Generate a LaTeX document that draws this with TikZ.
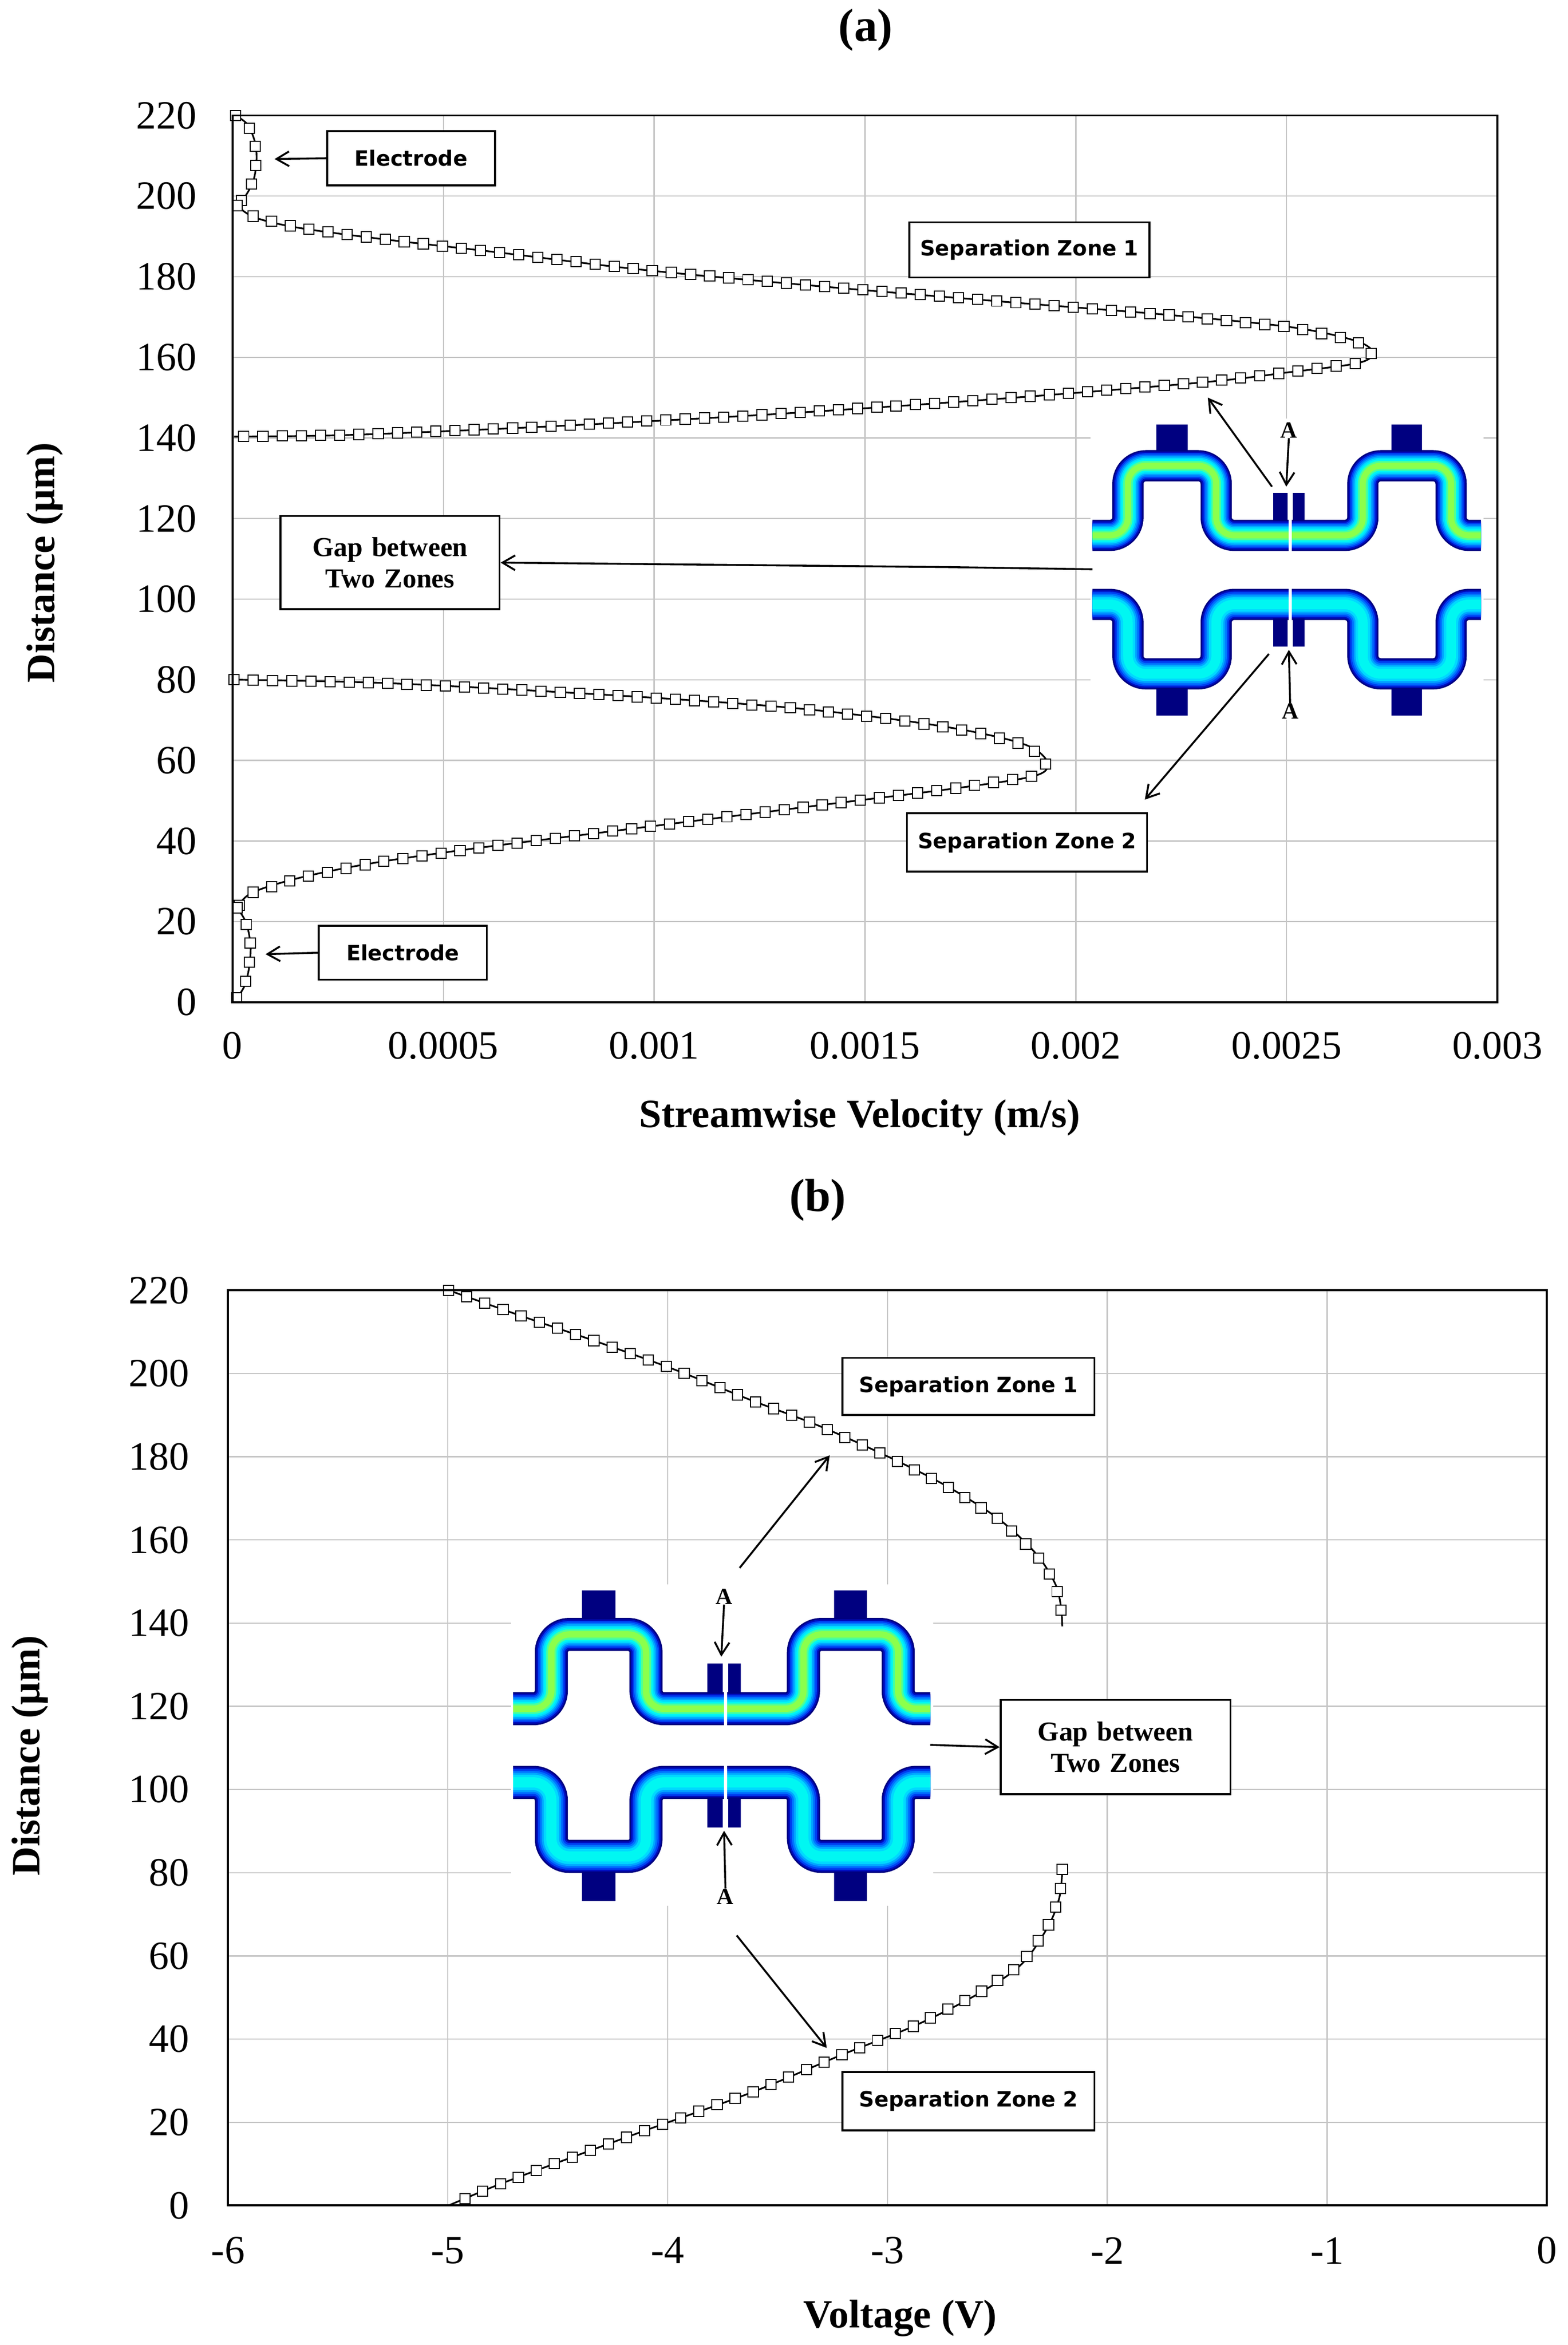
\documentclass[tikz,border=0pt]{standalone}
\usepackage{fontspec}
\setmainfont{Liberation Serif}
\newfontfamily\boxfont{DejaVu Sans}
\usetikzlibrary{arrows.meta,decorations.markings}
\definecolor{cA}{rgb}{0,0,0.5}
\definecolor{cA2}{rgb}{0,0.05,0.75}
\definecolor{cB}{rgb}{0,0.25,0.95}
\definecolor{cB2}{rgb}{0,0.45,1}
\definecolor{cC}{rgb}{0,0.65,1}
\definecolor{cC2}{rgb}{0,0.85,1}
\definecolor{cD}{rgb}{0,0.97,0.95}
\definecolor{cD2}{rgb}{0.3,1,0.6}
\definecolor{cE}{rgb}{0.55,1,0.3}
\tikzset{
 grid/.style={gray!45,line width=0.6pt},
 frame/.style={black,line width=1pt},
 tick/.style={font=\fontsize{19}{20}\selectfont},
 ttl/.style={font=\bfseries\fontsize{19}{20}\selectfont},
 lab/.style={draw,line width=0.9pt,fill=white,font=\boxfont\bfseries\fontsize{10}{13}\selectfont,inner sep=0pt},
 arr/.style={-{Straight Barb[length=6pt,width=7pt]},line width=0.9pt},
 sq/.style={draw,fill=white,minimum size=0.17cm,inner sep=0pt,line width=0.5pt},
 curve/.style={line width=0.8pt},
 mk/.style={postaction={decorate},decoration={markings,mark=between positions 0 and 1 step 0.32cm with {\node[sq]{};}}},
 alab/.style={font=\bfseries\fontsize{11}{12}\selectfont,inner sep=0pt}
}
\newcommand{\mytoppath}{(28,618) -- (165,618) -- (165,285) -- (505,285) -- (505,618) -- (1070,618) -- (1070,285) -- (1410,285) -- (1410,618) -- (1525,618)}
\newcommand{\mybotpath}{(28,948) -- (165,948) -- (165,1280) -- (505,1280) -- (505,948) -- (1070,948) -- (1070,1280) -- (1410,1280) -- (1410,948) -- (1525,948)}
\newcommand{\drawinset}[1]{%
 \fill[white] (20,60) rectangle (1535,1500);
 \fill[cA] (275,88) rectangle (395,300) (1180,88) rectangle (1298,300);
 \fill[cA] (275,1250) rectangle (395,1480) (1180,1250) rectangle (1298,1480);
 \foreach \w/\c in {0.52/cA,0.47/cA2,0.42/cB,0.37/cB2,0.32/cC,0.27/cC2,0.22/cD,0.16/cD2,0.1/cE}
   \draw[line width=#1*\w cm,color=\c,rounded corners=0.3cm] \mytoppath;
 \foreach \w/\c in {0.52/cA,0.47/cA2,0.42/cB,0.36/cB2,0.3/cC,0.24/cC2,0.16/cD}
   \draw[line width=#1*\w cm,color=\c,rounded corners=0.3cm] \mybotpath;
 \fill[cA] (725,415) rectangle (780,548) (800,415) rectangle (845,548);
 \fill[cA] (725,1015) rectangle (780,1150) (800,1015) rectangle (845,1150);
 \draw[white,line width=1.5pt] (790,410) -- (790,700) (790,860) -- (790,1155);
}
\newcommand{\crv}[1]{\draw[curve] plot[smooth,tension=0.55] coordinates {#1}; \path[mk] plot coordinates {#1};}
\begin{document}
\begin{tikzpicture}[x=0.025cm,y=-0.025cm]
\useasboundingbox (0,0) rectangle (1045,1563);
%%%%%%%%%% (a)
\node[ttl,font=\bfseries\fontsize{22}{24}\selectfont] (ta) at (577,20) {(a)};
\foreach \i in {1,...,5} \draw[grid] (155+\i*140.5,77) -- (155+\i*140.5,668);
\foreach \i in {1,...,10} \draw[grid] (155,668-\i*53.73) -- (998,668-\i*53.73);
\foreach \i in {0,...,11} {\pgfmathtruncatemacro\v{\i*20}\node[tick,anchor=east] at (136,668-\i*53.73) {\v};}
\foreach \x/\l in {0/0,1/0.0005,2/0.001,3/0.0015,4/0.002,5/0.0025,6/0.003} \node[tick] at (155+\x*140.5,697) {\l};
\node[ttl] (xa) at (573,745) {Streamwise Velocity (m/s)};
\node[ttl,rotate=90] (ya) at (30,375) {Distance (µm)};
% curve a
\crv{(157,77) (165,83) (170,95) (171,107) (169,120) (164,130) (158,137)}
\crv{(158,137) (170,145) (200,152) (260,160) (330,168) (430,180) (560,192) (680,202) (780,210) (860,218) (903,227) (915,235) (905,242) (860,248) (800,255) (650,267) (500,277) (350,285) (230,290) (156,291)}
\crv{(156,453) (250,455) (350,460) (450,466) (530,472) (600,480) (650,488) (685,497) (698,508) (690,517) (640,525) (560,535) (480,545) (400,555) (320,565) (250,575) (200,585) (168,595) (158,605)}
\crv{(158,605) (164,615) (167,630) (166,645) (163,657) (158,665) (155,668)}
\draw[frame] (155,77) rectangle (998,668);
% inset a
\begin{scope}[shift={(723.2,270.7)},xscale=0.173,yscale=0.1394]
\drawinset{1}
\node[alab] (aA1) at (785,115) {A};
\node[alab] (aA2) at (790,1460) {A};
\coordinate (aA1t) at (775,385);
\coordinate (aA2t) at (785,1165);
\coordinate (ain1) at (720,385);
\coordinate (ain2) at (708,1185);
\coordinate (aing) at (28,780);
\end{scope}
\draw[arr] (aA1.south) -- (aA1t);
\draw[arr] (aA2.north) -- (aA2t);
\coordinate (ap1) at (805,265);
\coordinate (ap2) at (763,533);
\draw[arr] (ain1) -- (ap1);
\draw[arr] (ain2) -- (ap2);
% labels a
\node[lab,text width=2.8cm,align=center,minimum height=0.9cm] (el1) at (274,105.5) {Electrode};
\node[lab,text width=2.8cm,align=center,minimum height=0.9cm] (el2) at (268.5,635) {Electrode};
\coordinate (el1t) at (183,106);
\coordinate (el2t) at (177,636);
\draw[arr] (el1.west) -- (el1t);
\draw[arr] (el2.west) -- (el2t);
\node[lab,text width=4cm,align=center,minimum height=0.92cm] (sz1) at (686,166.5) {Separation Zone 1};
\node[lab,text width=4cm,align=center,minimum height=0.97cm] (sz2) at (684.5,561.5) {Separation Zone 2};
\node[lab,font=\bfseries\fontsize{13}{15}\selectfont,text width=3.65cm,align=center,minimum height=1.55cm] (gap) at (260,375) {Gap between\\Two Zones};
\draw[arr] (aing) -- (633,378) -- (gap.east);
%%%%%%%%%% (b)
\node[ttl,font=\bfseries\fontsize{22}{24}\selectfont] (tb) at (545,800) {(b)};
\foreach \i in {1,...,5} \draw[grid] (152+\i*146.5,860) -- (152+\i*146.5,1470);
\foreach \i in {1,...,10} \draw[grid] (152,1470-\i*55.45) -- (1031,1470-\i*55.45);
\foreach \i in {0,...,11} {\pgfmathtruncatemacro\v{\i*20}\node[tick,anchor=east] at (131,1470-\i*55.45) {\v};}
\foreach \x/\l in {0/-6,1/-5,2/-4,3/-3,4/-2,5/-1,6/0} \node[tick] at (152+\x*146.5,1500) {\l};
\node[ttl] (xb) at (600,1545) {Voltage (V)};
\node[ttl,rotate=90] (yb) at (20,1170) {Distance (µm)};
\crv{(299,860) (350,878) (400,895) (450,913) (500,933) (545,950) (590,970) (630,990) (665,1012) (690,1035) (703,1055) (707,1070) (708,1084)}
\crv{(708,1246) (706,1265) (698,1285) (680,1310) (650,1330) (610,1350) (560,1370) (500,1395) (430,1420) (370,1442) (330,1457) (299,1470)}
\draw[frame] (152,860) rectangle (1031,1470);
\begin{scope}[shift={(336.8,1047)},xscale=0.1857,yscale=0.1487]
\drawinset{1.06}
\node[alab] (bA1) at (785,115) {A};
\node[alab] (bA2) at (790,1460) {A};
\coordinate (bA1t) at (775,385);
\coordinate (bA2t) at (785,1165);
\coordinate (bing) at (1525,780);
\end{scope}
\draw[arr] (bA1.south) -- (bA1t);
\draw[arr] (bA2.north) -- (bA2t);
\node[lab,text width=4.2cm,align=center,minimum height=0.95cm] (bz1) at (645.5,924) {Separation Zone 1};
\node[lab,text width=4.2cm,align=center,minimum height=0.97cm] (bz2) at (645.5,1400.5) {Separation Zone 2};
\node[lab,font=\bfseries\fontsize{13}{15}\selectfont,text width=3.83cm,align=center,minimum height=1.57cm] (bgap) at (743.5,1164.5) {Gap between\\Two Zones};
\coordinate (b1s) at (493,1045);
\coordinate (b1t) at (553,970);
\coordinate (b2s) at (491,1290);
\coordinate (b2t) at (551,1365);
\draw[arr] (b1s) -- (b1t);
\draw[arr] (b2s) -- (b2t);
\draw[arr] (bing) -- (bgap.west);
\end{tikzpicture}
\end{document}
